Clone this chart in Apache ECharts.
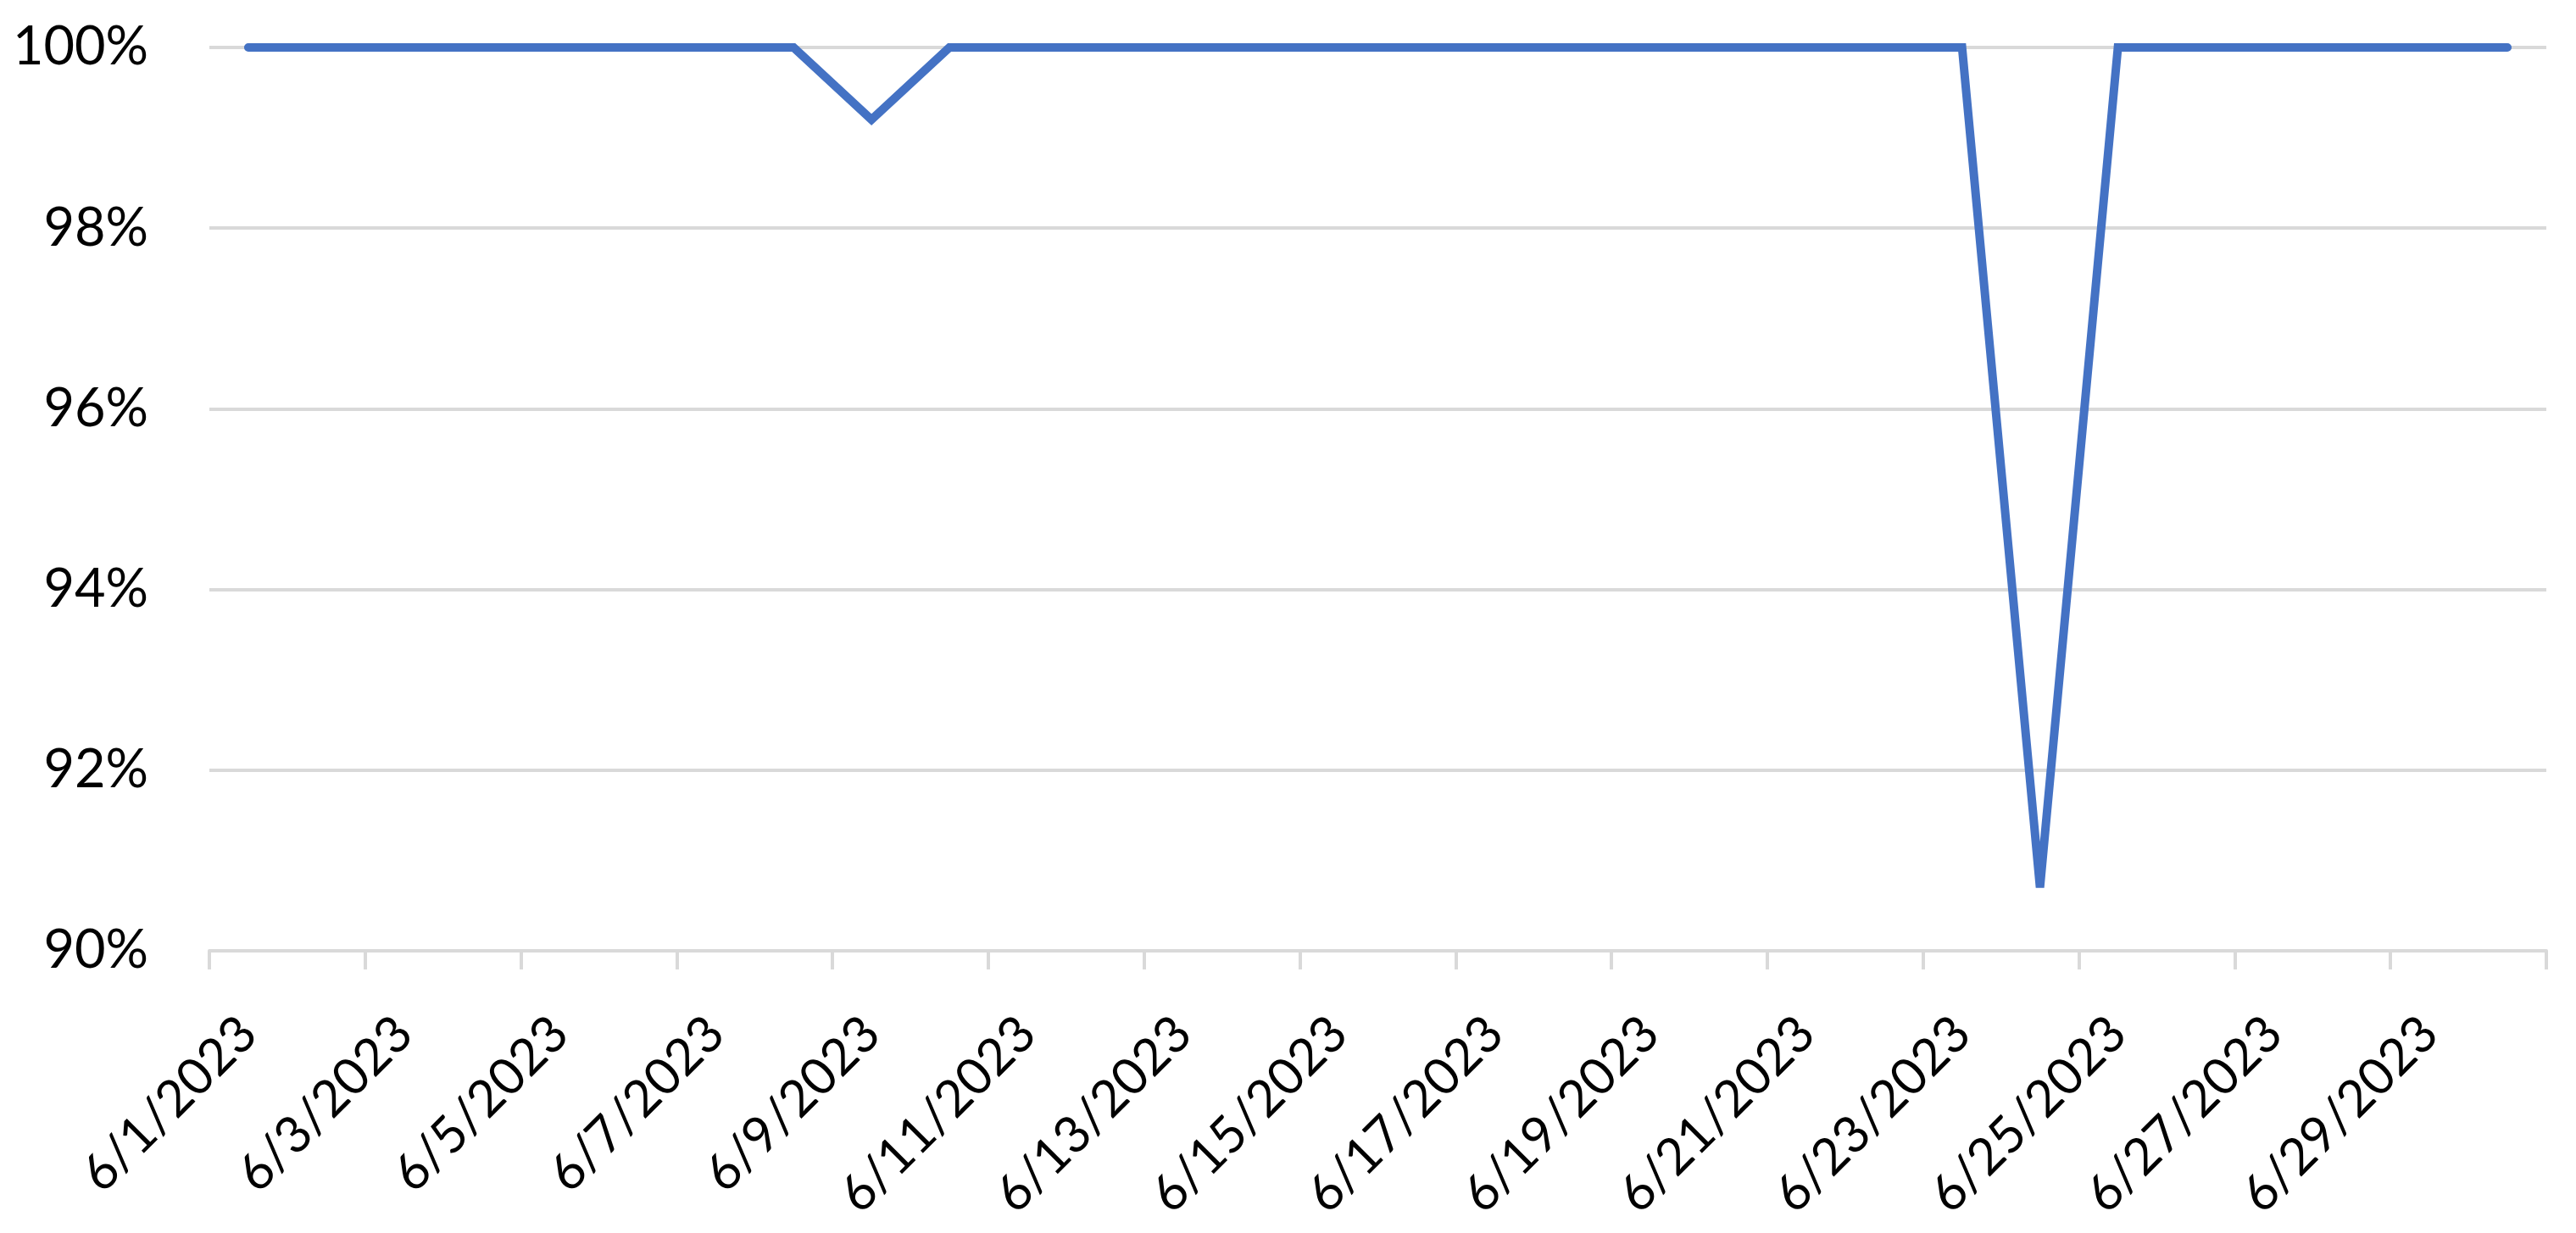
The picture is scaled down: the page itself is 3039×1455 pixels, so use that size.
<!DOCTYPE html>
<html>
<head>
<meta charset="utf-8">
<script src="https://cdn.jsdelivr.net/npm/echarts@6/dist/echarts.min.js"></script>
<style>
html,body{margin:0;padding:0;background:#fff;}
#chart{width:3039px;height:1455px;}
</style>
</head>
<body>
<div id="chart"></div>
<script>
const categories = ['6/1/2023','6/2/2023','6/3/2023','6/4/2023','6/5/2023','6/6/2023','6/7/2023','6/8/2023','6/9/2023','6/10/2023',
  '6/11/2023','6/12/2023','6/13/2023','6/14/2023','6/15/2023','6/16/2023','6/17/2023','6/18/2023','6/19/2023','6/20/2023',
  '6/21/2023','6/22/2023','6/23/2023','6/24/2023','6/25/2023','6/26/2023','6/27/2023','6/28/2023','6/29/2023','6/30/2023'];
const values = [100,100,100,100,100,100,100,100,99.2,100,
  100,100,100,100,100,100,100,100,100,100,
  100,100,100,90.7,100,100,100,100,100,100];
const yMin = 90, yMax = 100, yStep = 2;

const chart = echarts.init(document.getElementById('chart'), null, {renderer:'canvas'});
const FONT = 'Lato, "Open Sans", sans-serif';
chart.setOption({
  animation:false,
  backgroundColor:'#ffffff',
  grid:{left:247, right:35, top:56, bottom:333, containLabel:false},
  xAxis:{
    type:'category',
    data:categories,
    boundaryGap:true,
    axisLine:{show:true, lineStyle:{color:'#D9D9D9', width:4}},
    axisTick:{show:true, interval:1, length:22, lineStyle:{color:'#D9D9D9', width:4}},
    axisLabel:{interval:1, rotate:45, margin:88, color:'#000000', fontSize:60, fontFamily:FONT}
  },
  yAxis:{
    type:'value',
    min:yMin, max:yMax, interval:yStep,
    axisLine:{show:false},
    axisTick:{show:false},
    axisLabel:{formatter:'{value}%', margin:72, color:'#000000', fontSize:63, fontFamily:FONT},
    splitLine:{show:true, lineStyle:{color:'#D9D9D9', width:4}}
  },
  series:[{
    type:'line',
    data:values,
    showSymbol:false,
    symbol:'none',
    smooth:false,
    lineStyle:{color:'#4472C4', width:10, cap:'round', join:'miter'}
  }]
});
</script>
</body>
</html>
